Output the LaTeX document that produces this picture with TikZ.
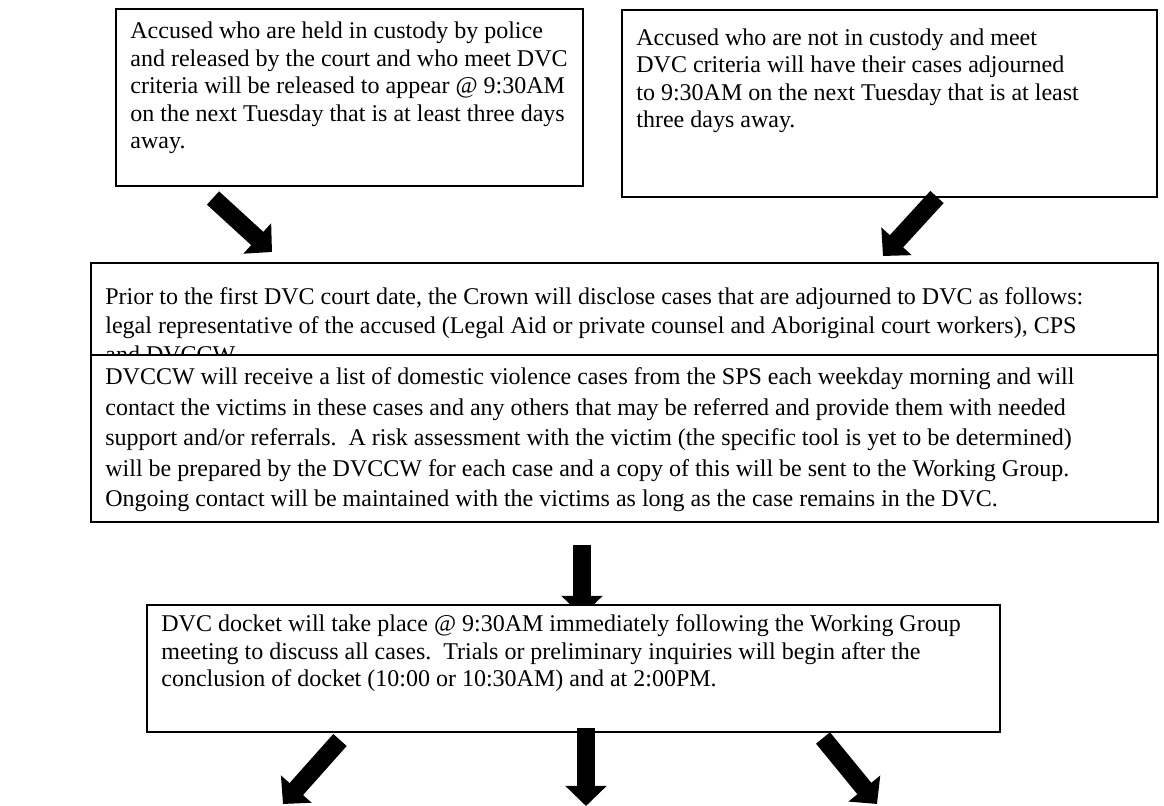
\documentclass[tikz,border=0pt]{standalone}
\usepackage{fontspec}
\setmainfont{Liberation Serif}
\usetikzlibrary{arrows.meta,fit}
\begin{document}
\begin{tikzpicture}[x=0.5pt,y=-0.5pt,
  box/.style={draw=black, line width=1.1pt, fill=white, inner sep=0pt},
  txt/.style={inner sep=0pt, align=left, anchor=base west, font=\fontsize{12pt}{13.8pt}\selectfont},
  txtmid/.style={txt, font=\fontsize{12pt}{14.5pt}\selectfont},
  txtwide/.style={txt, font=\fontsize{12pt}{15.25pt}\selectfont},
  blockarrow/.style={line width=9pt, -{Triangle[width=20pt,length=10pt]}}]
\useasboundingbox (0,0) rectangle (1164,806);
% box 1
\node[box, fit={(116,9)(583,186)}] (b1) {};
\node[txt] (t1) at (130,149) {Accused who are held in custody by police\\
and released by the court and who meet DVC\\
criteria will be released to appear @ 9:30AM\\
on the next Tuesday that is at least three days\\
away.};
% box 2
\node[box, fit={(622,10)(1157,197)}] (b2) {};
\node[txt] (t2) at (636,128) {Accused who are not in custody and meet\\
DVC criteria will have their cases adjourned\\
to 9:30AM on the next Tuesday that is at least\\
three days away.};
% arrows to box 3
\coordinate (a1s) at (213,198);
\coordinate (a1e) at (272,252);
\draw[blockarrow] (a1s) -- (a1e);
\coordinate (a2s) at (937,197);
\coordinate (a2e) at (883,256);
\draw[blockarrow] (a2s) -- (a2e);
% box 3
\node[box, fit={(91,263)(1158,355)}] (b3) {};
\begin{scope}
\clip (b3.south west) rectangle (b3.north east);
\node[txtmid] (t3) at (105,363) {Prior to the first DVC court date, the Crown will disclose cases that are adjourned to DVC as follows:\\
legal representative of the accused (Legal Aid or private counsel and Aboriginal court workers), CPS\\
and DVCCW.};
\end{scope}
% box 4
\node[box, fit={(91,355)(1158,522)}] (b4) {};
\begin{scope}
\clip (b4.south west) rectangle (b4.north east);
\node[txtwide] (t4) at (105,507) {DVCCW will receive a list of domestic violence cases from the SPS each weekday morning and will\\
contact the victims in these cases and any others that may be referred and provide them with needed\\
support and/or referrals.\ \ A risk assessment with the victim (the specific tool is yet to be determined)\\
will be prepared by the DVCCW for each case and a copy of this will be sent to the Working Group.\\
Ongoing contact will be maintained with the victims as long as the case remains in the DVC.};
\end{scope}
% arrow to box 5
\coordinate (a3s) at (582,545);
\coordinate (a3e) at (582,616);
\draw[blockarrow] (a3s) -- (a3e);
% box 5
\node[box, fit={(147,605)(1000,732)}] (b5) {};
\node[txt] (t5) at (161,687) {DVC docket will take place @ 9:30AM immediately following the Working Group\\
meeting to discuss all cases.\ \ Trials or preliminary inquiries will begin after the\\
conclusion of docket (10:00 or 10:30AM) and at 2:00PM.};
% arrows out of box 5
\coordinate (a4s) at (340,740);
\coordinate (a4e) at (283,804);
\draw[blockarrow] (a4s) -- (a4e);
\coordinate (a5s) at (586,728);
\coordinate (a5e) at (586,806);
\draw[blockarrow] (a5s) -- (a5e);
\coordinate (a6s) at (823,738);
\coordinate (a6e) at (877,804);
\draw[blockarrow] (a6s) -- (a6e);
\end{tikzpicture}
\end{document}
